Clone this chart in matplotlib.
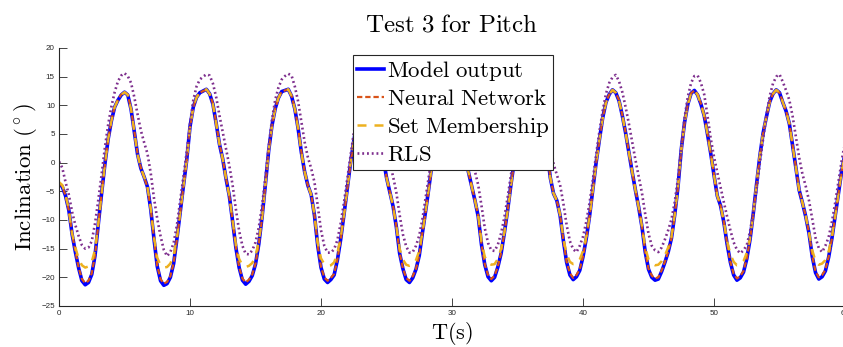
import matplotlib
matplotlib.use('Agg')
import matplotlib.pyplot as plt
import numpy as np

plt.rcParams['mathtext.fontset'] = 'cm'

# Pitch inclination (deg), one sample every 0.25 s from 0 s to 60 s
model_output = [
    -3.7, -4.2, -5.8, -8.3, -12.5, -15.6, -18.4, -20.6, -21.3,
    -20.9, -19.5, -16.2, -10.7, -5.4, -0.3, 4.1, 7.3, 9.7, 10.9, 11.8, 12.3,
    11.8, 9.3, 5.4, 1.4, -1.0, -2.5, -4.2, -8.1, -13.3, -18.1, -20.6, -21.4,
    -21.1, -20.0, -17.6, -13.3, -8.6, -4.0, 0.5, 6.3, 9.7, 11.4, 12.2, 12.5, 12.8,
    12.0, 10.2, 6.8, 3.2, 0.6, -2.8, -5.8, -10.2, -14.8, -18.3, -20.5, -21.2,
    -20.7, -19.7, -17.7, -14.2, -9.5, -3.9, 2.0, 6.4, 9.4, 11.3, 12.4, 12.6, 12.8,
    11.6, 9.4, 6.0, 1.8, -1.6, -4.0, -5.6, -9.2, -14.5, -18.3, -20.3, -20.9,
    -20.4, -19.6, -17.0, -13.4, -9.1, -4.6, -0.1, 3.8, 7.0, 9.5, 11.2, 12.2, 12.6,
    12.0, 9.8, 5.4, 0.8, -2.6, -5.1, -7.6, -11.2, -15.8, -18.5, -20.4, -20.9,
    -20.1, -18.6, -16.2, -12.1, -8.2, -4.1, 0.3, 4.5, 7.8, 10.1, 11.5, 12.3, 12.6,
    12.1, 10.4, 6.6, 2.2, -1.6, -4.1, -6.6, -9.4, -14.3, -17.8, -19.9, -20.6,
    -20.0, -18.2, -15.8, -12.2, -8.2, -3.8, 0.2, 4.2, 7.6, 10.0, 11.6, 12.4, 12.6,
    11.8, 9.8, 6.4, 2.2, -2.6, -5.4, -6.6, -9.2, -13.6, -17.4, -19.6, -20.4,
    -19.9, -18.8, -16.4, -13.2, -9.3, -4.6, 0.0, 4.0, 7.8, 10.5, 11.9, 12.7, 12.2,
    10.8, 8.2, 5.2, 1.8, -1.6, -4.8, -7.8, -11.2, -15.6, -18.6, -20.0, -20.5,
    -20.3, -19.0, -17.4, -15.6, -13.2, -9.1, -4.2, 2.3, 7.0, 10.2, 12.1, 12.6,
    11.8, 10.2, 8.2, 5.0, 1.6, -2.2, -5.8, -7.5, -10.4, -14.2, -17.4, -19.6, -20.5,
    -20.1, -19.1, -16.8, -13.4, -8.8, -3.7, 1.2, 5.2, 8.0, 10.6, 12.0, 12.7,
    12.2, 10.5, 9.0, 6.8, 3.0, -0.9, -4.8, -7.0, -9.4, -12.3, -16.4, -19.2, -20.3,
    -19.9, -18.9, -16.5, -13.2, -9.3, -5.3, -1.4, 1.6,
]

neural_network = [
    -3.5, -4.1, -5.7, -8.3, -12.4, -15.5, -18.3, -20.3, -21.0,
    -20.6, -19.3, -16.1, -10.8, -5.5, -0.4, 4.0, 7.3, 9.8, 11.0, 11.9, 12.3,
    11.9, 9.4, 5.5, 1.5, -0.9, -2.5, -4.3, -8.0, -13.2, -18.0, -20.3, -21.1,
    -20.8, -19.8, -17.5, -13.4, -8.7, -4.1, 0.4, 6.2, 9.7, 11.4, 12.2, 12.5, 12.7,
    12.0, 10.3, 6.9, 3.3, 0.6, -2.7, -5.8, -10.1, -14.7, -18.2, -20.2, -20.9,
    -20.4, -19.5, -17.6, -14.2, -9.6, -4.0, 1.9, 6.3, 9.4, 11.3, 12.4, 12.6, 12.7,
    11.7, 9.5, 6.1, 1.9, -1.5, -4.0, -5.6, -9.1, -14.4, -18.2, -20.0, -20.6,
    -20.1, -19.4, -16.9, -13.4, -9.2, -4.7, -0.2, 3.7, 7.0, 9.5, 11.2, 12.2, 12.6,
    12.0, 9.9, 5.5, 0.9, -2.5, -5.1, -7.5, -11.1, -15.7, -18.4, -20.1, -20.6,
    -19.8, -18.5, -16.1, -12.1, -8.3, -4.2, 0.2, 4.4, 7.8, 10.1, 11.5, 12.3, 12.6,
    12.1, 10.5, 6.7, 2.3, -1.5, -4.1, -6.5, -9.3, -14.2, -17.7, -19.6, -20.3,
    -19.7, -18.1, -15.7, -12.2, -8.3, -3.9, 0.1, 4.1, 7.6, 10.0, 11.6, 12.4, 12.6,
    11.9, 9.9, 6.5, 2.3, -2.5, -5.3, -6.6, -9.1, -13.5, -17.3, -19.3, -20.1,
    -19.6, -18.6, -16.3, -13.2, -9.4, -4.7, -0.1, 3.9, 7.8, 10.5, 11.9, 12.6, 12.2,
    10.9, 8.3, 5.3, 1.9, -1.5, -4.7, -7.7, -11.1, -15.5, -18.5, -19.7, -20.2,
    -20.0, -18.8, -17.3, -15.5, -13.2, -9.2, -4.3, 2.2, 6.9, 10.2, 12.1, 12.6,
    11.9, 10.3, 8.3, 5.1, 1.7, -2.1, -5.7, -7.5, -10.3, -14.1, -17.3, -19.4, -20.2,
    -19.8, -18.9, -16.7, -13.4, -8.9, -3.8, 1.1, 5.1, 8.0, 10.6, 12.0, 12.6,
    12.2, 10.6, 9.0, 6.9, 3.1, -0.8, -4.7, -7.0, -9.3, -12.2, -16.3, -19.0, -20.0,
    -19.6, -18.7, -16.4, -13.2, -9.4, -5.4, -1.5, 1.5,
]

set_membership = [
    -3.4, -3.9, -5.6, -8.2, -12.4, -14.8, -16.8, -17.9, -18.3,
    -18.1, -17.3, -15.2, -10.6, -5.4, -0.3, 4.1, 7.3, 9.7, 10.9, 11.8, 12.3,
    11.8, 9.3, 5.4, 1.4, -1.0, -2.5, -4.2, -8.0, -13.0, -16.6, -17.9, -18.3,
    -18.2, -17.6, -16.2, -13.0, -8.6, -4.0, 0.5, 6.3, 9.7, 11.4, 12.2, 12.5, 12.8,
    12.0, 10.2, 6.8, 3.2, 0.6, -2.8, -5.8, -10.1, -14.3, -16.8, -17.9, -18.2,
    -18.0, -17.5, -16.3, -13.7, -9.5, -3.9, 2.0, 6.4, 9.4, 11.3, 12.4, 12.6, 12.8,
    11.6, 9.4, 6.0, 1.8, -1.6, -4.0, -5.6, -9.1, -14.1, -16.7, -17.7, -18.0,
    -17.9, -17.4, -15.8, -13.1, -9.1, -4.6, -0.1, 3.8, 7.0, 9.5, 11.2, 12.2, 12.6,
    12.0, 9.8, 5.4, 0.8, -2.6, -5.1, -7.6, -11.1, -15.0, -16.9, -17.8, -18.0,
    -17.8, -17.0, -15.4, -12.0, -8.2, -4.1, 0.3, 4.5, 7.8, 10.1, 11.5, 12.3, 12.6,
    12.1, 10.4, 6.6, 2.2, -1.6, -4.1, -6.6, -9.3, -13.8, -16.4, -17.5, -17.8,
    -17.7, -16.8, -15.0, -12.1, -8.2, -3.8, 0.2, 4.2, 7.6, 10.0, 11.6, 12.4, 12.6,
    11.8, 9.8, 6.4, 2.2, -2.6, -5.4, -6.6, -9.1, -13.2, -16.0, -17.3, -17.7,
    -17.6, -16.9, -15.4, -12.9, -9.3, -4.6, 0.0, 4.0, 7.8, 10.5, 11.9, 12.7, 12.2,
    10.8, 8.2, 5.2, 1.8, -1.6, -4.8, -7.8, -11.1, -14.8, -16.9, -17.6, -17.9,
    -17.8, -17.2, -16.2, -14.8, -12.9, -9.1, -4.2, 2.3, 7.0, 10.2, 12.1, 12.6,
    11.8, 10.2, 8.2, 5.0, 1.6, -2.2, -5.8, -7.5, -10.3, -13.7, -16.0, -17.3, -17.9,
    -17.8, -17.2, -15.7, -13.1, -8.8, -3.7, 1.2, 5.2, 8.0, 10.6, 12.0, 12.7,
    12.2, 10.5, 9.0, 6.8, 3.0, -0.9, -4.8, -7.0, -9.3, -12.2, -15.3, -17.2, -17.8,
    -17.6, -17.0, -15.5, -12.9, -9.3, -5.3, -1.4, 1.6,
]

rls = [
    0.2, -0.9, -3.4, -5.6, -8.6, -10.9, -12.8, -14.4, -15.0,
    -14.8, -13.7, -10.6, -6.5, -2.1, 2.6, 6.6, 9.8, 12.3, 14.2, 15.2, 15.6,
    15.1, 13.9, 11.4, 8.4, 5.6, 3.5, 1.6, -1.8, -6.2, -9.8, -12.8, -15.2,
    -16.3, -15.6, -14.0, -10.9, -6.7, -2.4, 1.9, 6.7, 10.9, 13.3, 14.5, 15.0, 15.4,
    15.2, 13.8, 11.4, 8.2, 5.3, 2.5, -0.5, -3.9, -8.1, -11.9, -14.5, -15.9,
    -16.0, -15.3, -13.9, -11.3, -7.5, -2.7, 2.6, 7.4, 10.9, 13.1, 14.5, 15.1, 15.5,
    15.2, 13.3, 10.7, 7.1, 3.6, 0.9, -1.0, -3.4, -7.5, -11.8, -14.5, -15.7,
    -15.7, -15.1, -13.5, -10.6, -7.0, -2.9, 1.3, 5.2, 8.5, 11.2, 13.1, 14.4, 15.2,
    15.3, 13.6, 10.6, 6.4, 2.7, -0.1, -2.4, -5.2, -9.1, -12.5, -14.6, -15.7,
    -15.6, -14.5, -12.7, -9.7, -5.9, -2.2, 1.7, 5.7, 9.2, 11.8, 13.5, 14.6, 15.1,
    15.3, 14.0, 11.4, 7.6, 3.8, 0.9, -1.5, -3.9, -7.5, -11.4, -14.0, -15.3,
    -15.4, -14.3, -12.3, -9.5, -6.0, -2.1, 1.8, 5.5, 9.0, 11.7, 13.5, 14.7, 15.1,
    15.3, 13.5, 11.0, 7.5, 3.3, -0.2, -2.1, -3.9, -7.1, -10.9, -13.7, -15.1,
    -15.6, -14.5, -12.9, -10.3, -7.0, -3.0, 1.4, 5.4, 9.0, 12.0, 13.9, 14.9, 15.3,
    14.2, 12.3, 9.7, 6.8, 3.6, 0.5, -2.4, -5.3, -9.0, -12.4, -14.5, -15.3,
    -15.6, -14.8, -13.4, -11.8, -9.9, -6.9, -2.7, 2.6, 7.8, 11.5, 13.9, 15.1,
    15.2, 13.9, 11.9, 8.2, 4.2, 1.0, -1.7, -4.3, -6.9, -9.4, -11.8, -13.9, -15.2,
    -15.8, -15.3, -14.4, -12.0, -8.6, -4.6, 0.0, 4.2, 8.2, 11.6, 13.8, 15.0,
    15.4, 14.1, 12.6, 10.9, 8.1, 4.5, 0.9, -2.0, -4.1, -6.6, -9.9, -13.1, -14.9,
    -15.6, -14.5, -13.0, -10.3, -7.0, -3.3, 0.4, 3.6,
]

series_labels = ['Model output', 'Neural Network', 'Set Membership', 'RLS']
x_ticks = [0, 10, 20, 30, 40, 50, 60]
y_ticks = [-25, -20, -15, -10, -5, 0, 5, 10, 15, 20]

t = np.linspace(0, 60, len(model_output))


def tex(s):
    return r'$\mathrm{' + s.replace(' ', r'\ ') + '}$'


fig = plt.figure(figsize=(8.43, 3.47), dpi=100)
ax = fig.add_axes([0.0700, 0.1182, 0.9324, 0.7435])

ax.plot(t, model_output, color='#0000ff', lw=2.6, label=tex(series_labels[0]))
ax.plot(t, neural_network, color='#d95319', lw=1.6, dashes=(2.4, 1.3),
        label=tex(series_labels[1]))
ax.plot(t, set_membership, color='#edb120', lw=1.8, dashes=(3.6, 3.2),
        label=tex(series_labels[2]))
ax.plot(t, rls, color='#7e2f8e', lw=1.9, dashes=(0.7, 1.1), label=tex(series_labels[3]))

ax.set_xlim(0, 60)
ax.set_ylim(-25, 20)
ax.set_xticks(x_ticks)
ax.set_yticks(y_ticks)
ax.tick_params(direction='in', length=5.7, width=0.6, pad=3, labelsize=5.8,
               colors='#262626')
for lbl in ax.get_xticklabels() + ax.get_yticklabels():
    lbl.set_family('Liberation Sans')
for side in ['top', 'right']:
    ax.spines[side].set_visible(False)
for side in ['left', 'bottom']:
    ax.spines[side].set_color('#262626')
    ax.spines[side].set_linewidth(0.8)

leg = ax.legend(loc='upper left', bbox_to_anchor=(353 / 843, 1 - 55 / 347),
                bbox_transform=fig.transFigure, borderaxespad=0, borderpad=0.16,
                handlelength=1.2, handletextpad=0.12, labelspacing=0.2,
                fontsize=16.5, fancybox=False, framealpha=1, edgecolor='#262626')
leg.get_frame().set_linewidth(0.8)

fig.text(0.536, 0.908, tex('Test 3 for Pitch'), ha='center', va='baseline', fontsize=18)
fig.text(0.536, 0.023, tex('T(s)'), ha='center', va='baseline', fontsize=16)
fig.text(0.03, 0.49, r'$\mathrm{Inclination}\ (^\circ)$', rotation=90,
         ha='center', va='center', fontsize=16.5)

fig.savefig('out.png', dpi=100)
plt.close(fig)
